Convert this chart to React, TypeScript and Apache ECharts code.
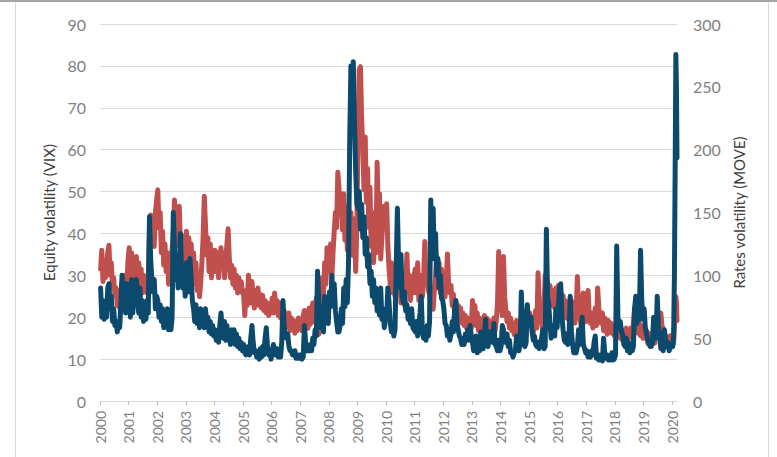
import React, { useEffect, useRef } from "react";
import * as echarts from "echarts";

// Semi-monthly readings (24 per year), VIX on left axis, MOVE on right axis
const YEARS = [2000, 2001, 2002, 2003, 2004, 2005, 2006, 2007, 2008, 2009, 2010, 2011, 2012, 2013, 2014, 2015, 2016, 2017, 2018, 2019];

const vix2000 = [27, 20, 24, 19.5, 23, 20, 27, 28, 22, 25, 19, 22, 18, 19, 16.5, 19, 17.5, 23, 30, 25, 28, 21, 28, 24];
const vix2001 = [26, 20, 29, 21, 27, 23, 29, 24, 21, 27, 20, 24, 19, 23, 19.5, 24, 21, 44, 34, 29, 26, 29, 22, 25];
const vix2002 = [24, 20, 23, 19, 22, 17.5, 21, 18, 22, 17, 20, 17, 20, 45, 36, 29, 34, 27, 33, 40, 30, 27, 30, 25];
const vix2003 = [33, 26, 31, 34, 29, 24, 22, 19, 23, 18.5, 21, 17.5, 22, 18.5, 21, 17.5, 22, 18.5, 20, 16.5, 19, 16, 18, 15.5];
const vix2004 = [17, 14.5, 16, 14, 18, 21, 17, 15, 19, 14.5, 18, 14.5, 16, 13.5, 17, 14.5, 17, 13.5, 16, 13, 15, 12.5, 14, 12];
const vix2005 = [13.5, 11.5, 11, 12.5, 13, 11, 15, 18, 14, 11.5, 12, 10.5, 11, 10, 12.5, 10.5, 13, 11, 15, 17.5, 13, 11, 12, 10];
const vix2006 = [12, 13.5, 11.5, 11, 12.5, 10.5, 12, 10.5, 14, 24, 18, 15.5, 15, 16, 13, 12, 12, 11, 11, 12, 10.2, 11, 10.2, 11];
const vix2007 = [11, 10, 10.5, 18, 14, 12, 13, 12, 13.5, 12, 15, 13.5, 17, 15.5, 31, 24, 21, 17.5, 20, 16.5, 25, 20, 22, 18.5];
const vix2008 = [26, 22.5, 30, 24.5, 28, 21.5, 19, 16.5, 16.5, 18, 22, 18.5, 27, 22.5, 29, 23.5, 33, 62, 80, 76, 81, 66, 55, 47];
const vix2009 = [46, 50, 41, 47, 39, 44, 35, 39, 32, 35, 28, 31, 25, 29, 23.5, 27, 21.5, 25, 20.5, 27, 19.5, 22, 17.5, 20];
const vix2010 = [20, 27, 23.5, 18.5, 16.5, 18, 15.5, 17, 32, 46, 33, 27, 35, 25, 23.5, 26, 21.5, 23, 19.5, 21, 18.5, 22, 17.5, 17];
const vix2011 = [16.5, 19, 15.5, 18, 21, 25, 16.5, 15, 16, 14.5, 18, 15.5, 19, 48, 36, 46, 34, 40, 30, 34, 27, 30, 24.5, 24];
const vix2012 = [22, 18.5, 18, 15.5, 17, 14.5, 16, 19, 16.5, 22, 24, 18.5, 17, 15.5, 15, 13.5, 15, 13.5, 16, 14.5, 17, 14.5, 18, 15.5];
const vix2013 = [14, 12, 13, 15.5, 11.5, 13.5, 12, 16.5, 12.5, 12.5, 15, 19.5, 13.5, 13, 15, 16.5, 14.5, 14, 18.5, 13.5, 13, 12, 14.5, 12];
const vix2014 = [13, 18, 17, 14, 14, 16, 13, 14.5, 11.5, 11.5, 10.5, 11.5, 12, 15.5, 12.5, 12, 14, 26, 16, 13.5, 13, 14, 23, 18.5];
const vix2015 = [19, 20, 16.5, 14.5, 15.5, 13.5, 13, 14, 12.5, 14, 15, 17, 12.5, 13, 41, 25, 23, 18.5, 15, 17, 18, 15.5, 22, 17.5];
const vix2016 = [22, 27, 28, 20.5, 17, 14.5, 14, 16, 13.5, 15.5, 25, 16.5, 13.5, 11.5, 12.5, 11.5, 13, 17, 13.5, 16, 20, 13.5, 12.5, 11.5];
const vix2017 = [12, 10.5, 11.5, 10.5, 12, 11, 14, 15.5, 10.2, 11, 9.8, 11, 9.8, 9.6, 15, 11.5, 10.2, 11, 9.8, 10.5, 9.8, 11.5, 9.8, 10];
const vix2018 = [11, 37, 20, 17.5, 19, 16.5, 16, 13.5, 13, 15, 12, 14, 11.5, 13, 12, 13, 22, 25, 18.5, 21, 19.5, 36, 24, 19.5];
const vix2019 = [22, 17.5, 16, 14.5, 14, 13, 13, 14, 20, 16.5, 15, 25, 17.5, 16, 12.5, 14, 12, 17, 14.5, 13, 14, 12, 13, 13.5];

const move2000 = [105, 120, 95, 112, 98, 108, 118, 124, 100, 110, 90, 98, 84, 90, 76, 88, 74, 82, 95, 84, 100, 74, 90, 112];
const move2001 = [122, 98, 118, 93, 112, 88, 115, 96, 110, 90, 105, 86, 100, 88, 95, 86, 100, 135, 148, 128, 140, 123, 150, 160];
const move2002 = [168, 138, 150, 118, 135, 108, 125, 103, 118, 93, 110, 98, 120, 135, 160, 123, 150, 133, 155, 123, 132, 108, 128, 98];
const move2003 = [135, 108, 130, 118, 125, 98, 118, 93, 110, 88, 100, 83, 95, 110, 130, 163, 140, 116, 130, 103, 125, 98, 118, 103];
const move2004 = [120, 103, 118, 98, 112, 122, 106, 118, 98, 112, 125, 137, 113, 98, 108, 93, 105, 90, 100, 86, 98, 88, 95, 86];
const move2005 = [85, 68, 88, 76, 100, 90, 78, 95, 83, 74, 88, 78, 90, 76, 85, 74, 84, 72, 80, 70, 78, 68, 76, 70];
const move2006 = [82, 70, 86, 73, 80, 68, 78, 66, 74, 62, 72, 58, 68, 60, 70, 56, 66, 58, 64, 54, 62, 56, 66, 58];
const move2007 = [64, 56, 68, 72, 60, 66, 58, 74, 61, 70, 78, 63, 72, 82, 66, 53, 60, 85, 98, 86, 110, 93, 122, 103];
const move2008 = [105, 125, 98, 118, 135, 150, 138, 182, 170, 148, 160, 136, 165, 128, 150, 120, 155, 138, 150, 116, 130, 145, 103, 140];
const move2009 = [215, 264, 266, 225, 200, 168, 210, 158, 185, 138, 170, 123, 150, 110, 140, 118, 190, 148, 165, 113, 130, 145, 155, 138];
const move2010 = [157, 123, 105, 93, 110, 86, 100, 83, 95, 105, 88, 98, 78, 92, 83, 76, 95, 117, 88, 100, 80, 95, 86, 100];
const move2011 = [105, 86, 110, 80, 100, 93, 83, 98, 127, 93, 105, 88, 85, 78, 90, 73, 88, 100, 115, 90, 110, 86, 105, 93];
const move2012 = [100, 83, 95, 117, 92, 86, 92, 76, 85, 70, 80, 68, 76, 64, 74, 62, 70, 60, 68, 58, 66, 56, 64, 58];
const move2013 = [80, 68, 76, 60, 70, 56, 66, 53, 64, 58, 68, 54, 66, 56, 64, 52, 62, 54, 66, 56, 64, 78, 119, 88];
const move2014 = [80, 68, 115, 83, 72, 63, 70, 58, 66, 56, 62, 53, 60, 64, 54, 58, 62, 52, 66, 72, 58, 64, 70, 64];
const move2015 = [70, 60, 66, 54, 64, 72, 58, 102, 80, 68, 64, 56, 75, 100, 83, 95, 78, 92, 83, 76, 88, 74, 90, 78];
const move2016 = [92, 76, 88, 70, 84, 68, 80, 66, 76, 64, 72, 80, 66, 74, 62, 72, 99, 76, 70, 60, 74, 86, 68, 63];
const move2017 = [72, 88, 66, 62, 70, 58, 66, 74, 60, 90, 74, 66, 62, 70, 56, 66, 58, 53, 64, 56, 62, 54, 60, 52];
const move2018 = [58, 64, 53, 60, 50, 57, 48, 56, 50, 58, 48, 55, 50, 58, 51, 62, 74, 64, 60, 54, 62, 52, 58, 50];
const move2019 = [60, 50, 56, 46, 54, 44, 52, 48, 58, 46, 55, 60, 50, 64, 70, 60, 56, 46, 52, 43, 50, 44, 52, 46];

// 2020 readings (explicit dates as decimal years)
const T_2020 = [2020.02, 2020.05, 2020.08, 2020.11, 2020.13, 2020.15, 2020.17];
const VIX_2020 = [13, 15, 30, 60, 82.7, 75, 58];
const MOVE_2020 = [52, 46, 58, 72, 83, 78, 64];

const YEAR_TICKS = [2000, 2001, 2002, 2003, 2004, 2005, 2006, 2007, 2008, 2009, 2010, 2011, 2012, 2013, 2014, 2015, 2016, 2017, 2018, 2019, 2020];

const VIX_BY_YEAR = [vix2000, vix2001, vix2002, vix2003, vix2004, vix2005, vix2006, vix2007, vix2008, vix2009, vix2010, vix2011, vix2012, vix2013, vix2014, vix2015, vix2016, vix2017, vix2018, vix2019];
const MOVE_BY_YEAR = [move2000, move2001, move2002, move2003, move2004, move2005, move2006, move2007, move2008, move2009, move2010, move2011, move2012, move2013, move2014, move2015, move2016, move2017, move2018, move2019];

function buildSeries(byYear: number[][], tail: number[]): [number, number][] {
  const out: [number, number][] = [];
  YEARS.forEach((y, i) => {
    byYear[i].forEach((v, k) => out.push([y + (k + 0.5) / 24, v]));
  });
  T_2020.forEach((t, i) => out.push([t, tail[i]]));
  return out;
}

const FONT = "Lato, 'Open Sans', sans-serif";

export default function App() {
  const ref = useRef<HTMLDivElement>(null);

  useEffect(() => {
    if (!ref.current) return;
    const chart = echarts.init(ref.current, undefined, { renderer: "svg" });
    const vixData = buildSeries(VIX_BY_YEAR, VIX_2020);
    const moveData = buildSeries(MOVE_BY_YEAR, MOVE_2020);

    const option: any = {
      animation: false,
      backgroundColor: "#ffffff",
      grid: { left: 100, right: 100, top: 24, bottom: 56 },
      xAxis: {
        type: "value",
        min: 2000,
        max: 2020.17,
        splitLine: { show: false },
        axisLine: { show: true, lineStyle: { color: "#d9d9d9", width: 1 } },
        axisTick: {
          show: true,
          customValues: YEAR_TICKS,
          length: 4,
          lineStyle: { color: "#bfbfbf", width: 1 },
        },
        axisLabel: {
          customValues: YEAR_TICKS,
          rotate: 90,
          margin: 10,
          color: "#7f7f7f",
          fontSize: 14,
          fontFamily: FONT,
          formatter: (v: number) => String(Math.round(v)),
        },
      },
      yAxis: [
        {
          type: "value",
          position: "left",
          min: 0,
          max: 90,
          interval: 10,
          name: "Equity volatility (VIX)",
          nameLocation: "middle",
          nameGap: 40,
          nameRotate: 90,
          nameTextStyle: { color: "#404040", fontSize: 15, fontFamily: FONT },
          axisLine: { show: false },
          axisTick: { show: false },
          axisLabel: { color: "#7f7f7f", fontSize: 16, margin: 14, fontFamily: FONT },
          splitLine: { show: true, lineStyle: { color: "#d9d9d9", width: 1 } },
        },
        {
          type: "value",
          position: "right",
          min: 0,
          max: 300,
          interval: 50,
          name: "Rates volatility (MOVE)",
          nameLocation: "middle",
          nameGap: 51,
          nameRotate: 90,
          nameTextStyle: { color: "#404040", fontSize: 15, fontFamily: FONT },
          axisLine: { show: false },
          axisTick: { show: false },
          axisLabel: { color: "#7f7f7f", fontSize: 16, margin: 16, fontFamily: FONT },
          splitLine: { show: false },
        },
      ],
      series: [
        {
          type: "line",
          name: "MOVE",
          yAxisIndex: 1,
          data: moveData,
          symbol: "none",
          showSymbol: false,
          z: 2,
          itemStyle: { color: "#c0504d" },
          lineStyle: { color: "#c0504d", width: 5, join: "round", cap: "round" },
        },
        {
          type: "line",
          name: "VIX",
          yAxisIndex: 0,
          data: vixData,
          symbol: "none",
          showSymbol: false,
          z: 3,
          itemStyle: { color: "#0b4a6d" },
          lineStyle: { color: "#0b4a6d", width: 5, join: "round", cap: "round" },
        },
      ],
      graphic: [
        { type: "rect", left: 0, top: 0, shape: { width: 777, height: 2 }, style: { fill: "#a6a6a6" }, silent: true },
        { type: "rect", left: 15, top: 2, shape: { width: 1, height: 455 }, style: { fill: "#d9d9d9" }, silent: true },
        { type: "rect", left: 768, top: 2, shape: { width: 1, height: 455 }, style: { fill: "#d9d9d9" }, silent: true },
      ],
    };

    chart.setOption(option);
    return () => chart.dispose();
  }, []);

  return (
    <div
      ref={ref}
      style={{ position: "absolute", left: 0, top: 0, width: 777, height: 457, background: "#fff" }}
    />
  );
}
